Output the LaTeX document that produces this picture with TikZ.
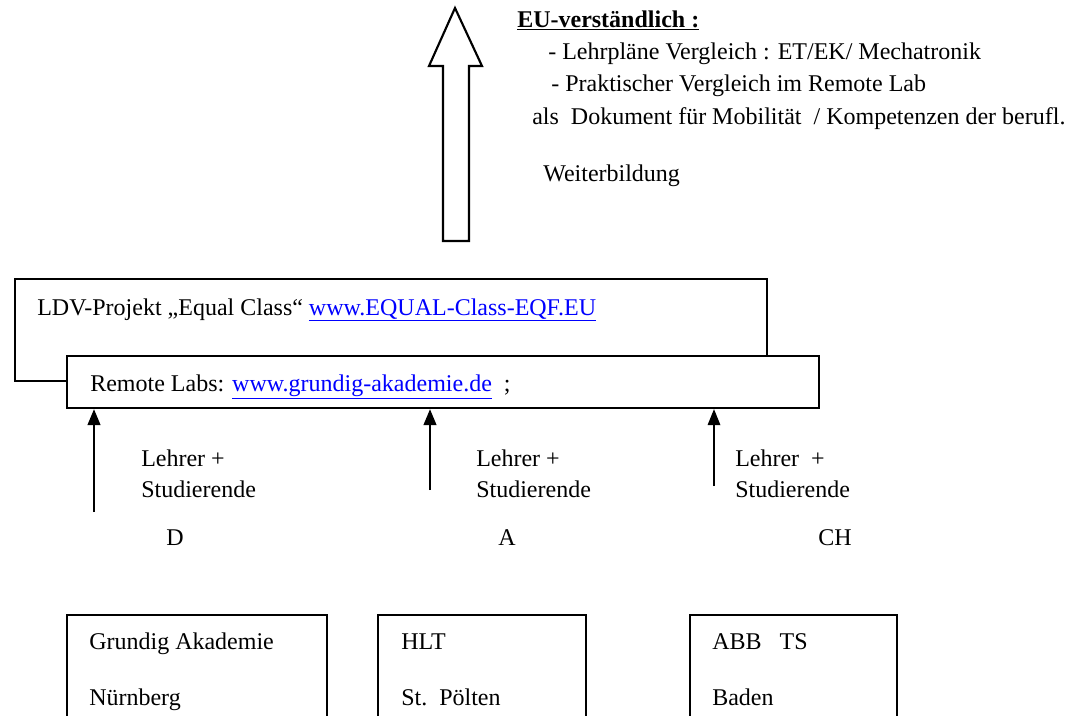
\documentclass[tikz,border=0pt]{standalone}
\usepackage{fontspec}
\setmainfont{Liberation Serif}
\usetikzlibrary{arrows.meta}
\definecolor{linkblue}{RGB}{0,0,255}

\tikzstyle{box} = [draw,line width=1.6pt,fill=white,anchor=north west,inner sep=0pt]
\tikzstyle{txt} = [anchor=base west,inner sep=0pt,font=\fontsize{18}{23}\selectfont]
\tikzstyle{up}  = [-{Triangle[length=12pt,width=9.5pt]},line width=1.7pt]

\begin{document}
\begin{tikzpicture}[x=0.75pt,y=-0.75pt]
  \useasboundingbox (0,0) rectangle (1079,715);
  \clip (0,0) rectangle (1079,715);

  % hollow arrow
  \draw[line width=1.6pt,line join=miter] (443,241) -- (443,66) -- (429,66) -- (455,8)
    -- (482,66) -- (469,66) -- (469,241) -- cycle;

  \node[txt] (eu)   at (517,27)  {\textbf{\underline{EU-verständlich :}}};
  \node[txt] (lp)   at (548,59)  {- Lehrpläne Vergleich : ET/EK/ Mechatronik};
  \node[txt] (pv)   at (551,91)  {- Praktischer Vergleich im Remote Lab};
  \node[txt] (dok)  at (532,124) {als\ \ Dokument für Mobilität\ \ / Kompetenzen der berufl.};
  \node[txt] (wb)   at (543,181) {Weiterbildung};

  % project boxes
  \node[box,minimum width=752*0.75pt,minimum height=102*0.75pt] (ldv) at (14,278) {};
  \node[box,minimum width=752*0.75pt,minimum height=52*0.75pt] (rl) at (66,355) {};
  \node[txt] (ldvt) at (37,315) {LDV-Projekt „Equal Class“ \textcolor{linkblue}{\underline{www.EQUAL-Class-EQF.EU}}};
  \node[txt] (rlt)  at (90,391) {Remote Labs: \textcolor{linkblue}{\underline{www.grundig-akademie.de}}\ \ ;};

  % arrows
  \coordinate (s1) at (94,512);
  \coordinate (s2) at (430,490);
  \coordinate (s3) at (714,486);
  \draw[up] (s1) -- (s1 |- rl.south);
  \draw[up] (s2) -- (s2 |- rl.south);
  \draw[up,line width=0.9pt] (s3) -- (s3 |- rl.south);

  \node[txt] (l1) at (141,466) {Lehrer +};
  \node[txt] (t1) at (141,497) {Studierende};
  \node[txt] (l2) at (476,466) {Lehrer +};
  \node[txt] (t2) at (476,497) {Studierende};
  \node[txt] (l3) at (735,466) {Lehrer\ \ +};
  \node[txt] (t3) at (735,497) {Studierende};

  \node[txt] (d)  at (166,545) {D};
  \node[txt] (a)  at (498,545) {A};
  \node[txt] (ch) at (818,545) {CH};

  % partner boxes
  \node[box,minimum width=260*0.75pt,minimum height=150*0.75pt] (ga)  at (66,614)  {};
  \node[box,minimum width=208*0.75pt,minimum height=150*0.75pt] (hlt) at (377,614) {};
  \node[box,minimum width=207*0.75pt,minimum height=150*0.75pt] (abb) at (689,614) {};
  \node[txt] (ga1)  at (89,649)  {Grundig Akademie};
  \node[txt] (ga2)  at (89,705)  {Nürnberg};
  \node[txt] (hlt1) at (401,649) {HLT};
  \node[txt] (hlt2) at (401,705) {St.\ \ Pölten};
  \node[txt] (abb1) at (712,649) {ABB\ \ \ TS};
  \node[txt] (abb2) at (712,705) {Baden};
\end{tikzpicture}
\end{document}
